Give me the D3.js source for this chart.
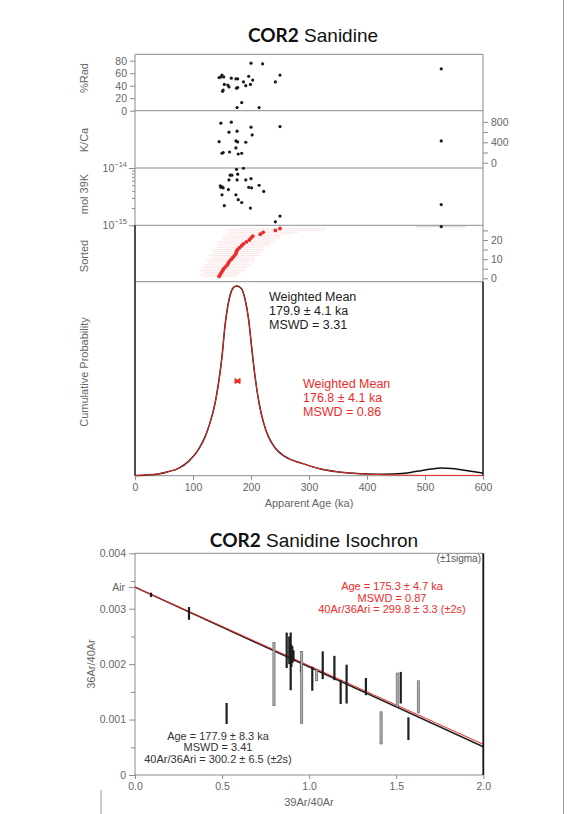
<!DOCTYPE html>
<html><head><meta charset="utf-8">
<script src="https://cdn.jsdelivr.net/npm/d3@7"></script>
<style>body{margin:0;background:#fff}svg{display:block}</style>
</head><body><svg id="c" width="579" height="814"></svg>
<script>
// ---------- data ----------
const titleTop = ["COR2", " Sanidine"];
const titleIso = ["COR2", " Sanidine Isochron"];

const radAge = [145,148,150,153,166,174,177,196,203,199,191,187,177,175,162,160,154,152,151,200,220,184,176,214,242,250,528];
const radVal = [53,54,57,54,52,51,51,55,49,42,40,46,37,36,38,41,42,33,31,76,75,13,5,5,46,57,67];

const kcaAge = [148,166,200,250,162,176,202,145,174,177,191,150,152,163,174,178,184,528];
const kcaVal = [776,795,697,709,598,618,545,413,427,408,401,185,200,210,290,171,185,427];

const molAge = [175,187,164,167,177,162,176,191,200,147,150,148,152,161,150,174,196,201,214,222,178,184,154,199,242,250,528];
const molVal = [9.5e-15,9.9e-15,7.5e-15,7.5e-15,7.8e-15,6.2e-15,6.2e-15,6.2e-15,6.5e-15,4.9e-15,4.7e-15,4.6e-15,4.5e-15,4.2e-15,3.4e-15,3.4e-15,4.6e-15,4.5e-15,5.0e-15,3.9e-15,2.8e-15,2.5e-15,2.2e-15,2.0e-15,1.15e-15,1.45e-15,2.3e-15];

const sortedAge = [145,147,149,151,153,156,159,161,163,166,169,172,174,175,177,180,184,187,192,197,200,203,216,221,242,250];
const sortedErr = [30,35,30,40,35,38,40,35,42,40,38,45,40,42,45,40,48,45,50,45,50,48,55,60,85,80];
const sortedOutAge = [528];
const sortedOutErr = [43];

const probAge   = [0,20,40,57,75,92,109,121,129,138,144,150,155,162,170,175,183,190,196,201,207,214,222,230,242,259,288,322,360,400,430,460,490,510,528,545,565,585,600];
const probBlack = [0,0.003,0.008,0.020,0.038,0.073,0.135,0.205,0.275,0.381,0.487,0.627,0.785,0.926,0.993,1.0,0.988,0.926,0.821,0.680,0.521,0.381,0.275,0.205,0.144,0.099,0.064,0.033,0.016,0.008,0.006,0.010,0.024,0.034,0.039,0.037,0.029,0.020,0.013];
const probRed   = [0,0.003,0.008,0.020,0.038,0.073,0.135,0.205,0.275,0.381,0.487,0.627,0.785,0.926,0.993,1.0,0.988,0.926,0.821,0.680,0.521,0.381,0.275,0.205,0.144,0.099,0.064,0.033,0.016,0.007,0.004,0.002,0.001,0.0008,0.0006,0.0005,0.0005,0.0005,0.0005];
const wmean = [176.8, 4.1];

const wmBlackText = ["Weighted Mean", "179.9 \u00b1 4.1 ka", "MSWD = 3.31"];
const wmRedText   = ["Weighted Mean", "176.8 \u00b1 4.1 ka", "MSWD = 0.86"];

const ageTicks = [0,100,200,300,400,500,600];
const radTicks = [0,20,40,60,80];
const kcaTicks = [0,200,400,600,800];
const sortTicks = [0,5,10,15,20,25];

// isochron
const isoX    = [0.092,0.310,0.526,0.798,0.871,0.886,0.894,0.898,0.903,0.910,0.953,0.957,1.018,1.043,1.078,1.145,1.181,1.215,1.326,1.413,1.506,1.526,1.570,1.627];
const isoLo   = [0.00321,0.00280,0.00092,0.00125,0.00193,0.00200,0.00153,0.00195,0.00202,0.00205,0.00185,0.00093,0.00152,0.00170,0.00173,0.00171,0.00128,0.00129,0.00144,0.00056,0.00123,0.00129,0.00063,0.00112];
const isoHi   = [0.00329,0.00303,0.00130,0.00239,0.00257,0.00250,0.00257,0.00235,0.00232,0.00225,0.00205,0.00223,0.00195,0.00190,0.00223,0.00215,0.00171,0.00199,0.00175,0.00114,0.00184,0.00186,0.00104,0.00170];
const isoDark = [1,1,1,0,1,1,1,1,1,1,1,0,1,0,1,1,1,1,1,0,0,1,1,0];
const isoLineBlack = [[0,0.00339],[2.0,0.000511]];
const isoLineRed   = [[0,0.00339],[2.0,0.000554]];
const isoYTicks = [0,0.0005,0.001,0.0015,0.002,0.0025,0.003,0.0035,0.004];
const isoXTicks = [0,0.5,1.0,1.5,2.0];
const airValue = 0.003384;
const isoRedText   = ["Age = 175.3 \u00b1 4.7 ka", "MSWD = 0.87", "40Ar/36Ari = 299.8 \u00b1 3.3 (\u00b12s)"];
const isoBlackText = ["Age = 177.9 \u00b1 8.3 ka", "MSWD = 3.41", "40Ar/36Ari = 300.2 \u00b1 6.5 (\u00b12s)"];

// ---------- drawing ----------
const FONT = "'Liberation Sans', Arial, sans-serif";
const GRAY = "#8c8c8c", TXT = "#666", RED = "#ee2b2b", DARK = "#1a1a1a";
const svg = d3.select("#c").attr("font-family", FONT);
const L = 135, R = 483;

const x = d3.scaleLinear().domain([0,600]).range([L,R]);
const yRad = d3.scaleLinear().domain([0,90]).range([110.7,54.45]);
const yKca = d3.scaleLinear().domain([-104,1020]).range([168,110.7]);
const yMol = d3.scaleLog().domain([1e-15,1e-14]).range([225.3,168]);
const ySort = d3.scaleLinear().domain([0,20]).range([278.3,240]);
const yProb = d3.scaleLinear().domain([0,1]).range([475.5,286]);

function line(x1,y1,x2,y2,c,w){ svg.append("line").attr("x1",x1).attr("y1",y1).attr("x2",x2).attr("y2",y2).attr("stroke",c).attr("stroke-width",w||1); }
function styleAxis(g, fs){
  g.attr("font-family", FONT).attr("font-size", fs);
  g.select(".domain").remove();
  g.selectAll(".tick line").attr("stroke", GRAY);
  g.selectAll(".tick text").attr("fill", TXT);
}
function vlabel(txt, cx, cy, fs){
  svg.append("text").attr("transform",`translate(${cx},${cy}) rotate(-90)`).attr("text-anchor","middle")
    .attr("dominant-baseline","middle").attr("font-size",fs).attr("fill",TXT).text(txt);
}
function title(parts, cx, by){
  const t = svg.append("text").attr("x",cx).attr("y",by).attr("text-anchor","middle").attr("font-size",19).attr("fill","#111");
  t.append("tspan").attr("font-weight","bold").attr("font-family","Lato, 'Liberation Sans', sans-serif").text(parts[0]);
  t.append("tspan").text(parts[1]);
}

title(titleTop, 313, 41.5);

// ---- top panels frame ----
[54.3,110.7,168,225.3].forEach(y=>line(L,y,R,y,GRAY,1));
line(L,281.7,R,281.7,GRAY,1);
line(L,54.3,L,225.3,GRAY,1);
line(R,54.3,R,281.7,GRAY,1);

// sorted error bars (faint)
svg.append("g").selectAll("line").data(sortedAge).join("line")
  .attr("x1",(d,i)=>x(d-sortedErr[i])).attr("x2",(d,i)=>x(Math.min(600,d+sortedErr[i])))
  .attr("y1",(d,i)=>ySort(i+1)).attr("y2",(d,i)=>ySort(i+1))
  .attr("stroke","#f0c4c4").attr("stroke-width",1.2).attr("opacity",0.35);
svg.append("g").selectAll("line").data(sortedOutAge).join("line")
  .attr("x1",(d,i)=>x(d-sortedOutErr[i])).attr("x2",(d,i)=>x(Math.min(600,d+sortedOutErr[i])))
  .attr("y1",ySort(27)).attr("y2",ySort(27))
  .attr("stroke","#e0e0e0").attr("stroke-width",1.2);

// dots
svg.append("g").selectAll("circle").data(radAge).join("circle")
  .attr("cx",d=>x(d)).attr("cy",(d,i)=>yRad(radVal[i])).attr("r",1.6).attr("fill",DARK);
svg.append("g").selectAll("circle").data(kcaAge).join("circle")
  .attr("cx",d=>x(d)).attr("cy",(d,i)=>yKca(kcaVal[i])).attr("r",1.6).attr("fill",DARK);
svg.append("g").selectAll("circle").data(molAge).join("circle")
  .attr("cx",d=>x(d)).attr("cy",(d,i)=>yMol(molVal[i])).attr("r",1.6).attr("fill",DARK);
svg.append("g").selectAll("circle").data(sortedAge).join("circle")
  .attr("cx",d=>x(d)).attr("cy",(d,i)=>ySort(i+1)).attr("r",1.9).attr("fill",RED);
svg.append("g").selectAll("circle").data(sortedOutAge).join("circle")
  .attr("cx",d=>x(d)).attr("cy",ySort(27)).attr("r",1.6).attr("fill",DARK);

// axes top
styleAxis(svg.append("g").attr("transform",`translate(${L},0)`)
  .call(d3.axisLeft(yRad).tickValues(radTicks).tickSize(5).tickPadding(3)), 10.5);
styleAxis(svg.append("g").attr("transform",`translate(${R},0)`)
  .call(d3.axisRight(yKca).tickValues(kcaTicks).tickSize(5).tickPadding(3).tickFormat(d=>d%400===0?d:"")), 10.5);
styleAxis(svg.append("g").attr("transform",`translate(${R},0)`)
  .call(d3.axisRight(ySort).tickValues(sortTicks).tickSize(5).tickPadding(3).tickFormat(d=>d%10===0?d:"")), 10.5);
const molTicks = yMol.ticks();
const gm = svg.append("g").attr("transform",`translate(${L},0)`)
  .call(d3.axisLeft(yMol).tickValues(molTicks).tickSize(4).tickFormat(""));
styleAxis(gm, 10.5);
gm.selectAll(".tick line").attr("x2",(d)=> (d===1e-14||d===1e-15)? -6 : -3);
[1e-14,1e-15].forEach(v=>{
  const t = svg.append("text").attr("x",L-8).attr("y",yMol(v)+4).attr("text-anchor","end").attr("font-size",10.5).attr("fill",TXT);
  t.append("tspan").text("10");
  t.append("tspan").attr("dy",-5).attr("font-size",7.5).text("\u2212"+Math.round(-Math.log10(v)));
});

vlabel("%Rad", 85, 78, 11);
vlabel("K/Ca", 85, 140, 11);
vlabel("mol 39K", 85, 194, 11);
vlabel("Sorted", 85, 256, 11);
vlabel("Cumulative Probability", 85, 372, 11);

// ---- probability panel ----
const pline = d3.line().x(d=>x(d[0])).y(d=>yProb(d[1])).curve(d3.curveMonotoneX);
line(L,475.7,R,475.7,GRAY,1);
svg.append("path").attr("d",pline(probAge.map((a,i)=>[a,probBlack[i]]))).attr("fill","none").attr("stroke","#111").attr("stroke-width",1.5);
svg.append("path").attr("d",pline(probAge.map((a,i)=>[a,probRed[i]]))).attr("fill","none").attr("stroke",RED).attr("stroke-width",1.0);
line(L,225.3,L,475.7,"#222",1.6);
line(R,281.7,R,475.7,"#222",1.6);

{
  const yc = 381, a = x(wmean[0]-wmean[1]), b = x(wmean[0]+wmean[1]);
  svg.append("path").attr("d",`M${a},${yc-2.5}L${b},${yc+2.5}M${a},${yc+2.5}L${b},${yc-2.5}M${a},${yc-2.5}V${yc+2.5}M${b},${yc-2.5}V${yc+2.5}M${a},${yc}H${b}`)
    .attr("stroke",RED).attr("stroke-width",1.4).attr("fill","none");
}
wmBlackText.forEach((t,i)=>svg.append("text").attr("x",269).attr("y",301+i*14).attr("font-size",12.5).attr("fill","#222").text(t));
wmRedText.forEach((t,i)=>svg.append("text").attr("x",303).attr("y",388+i*14).attr("font-size",12.5).attr("fill",RED).text(t));

styleAxis(svg.append("g").attr("transform","translate(0,475.7)")
  .call(d3.axisBottom(x).tickValues(ageTicks).tickSize(4).tickPadding(4)), 10.5);
svg.append("text").attr("x",309).attr("y",507).attr("text-anchor","middle").attr("font-size",11).attr("fill",TXT).text("Apparent Age (ka)");

// ---- isochron ----
title(titleIso, 314, 546.5);
const xi = d3.scaleLinear().domain([0,2]).range([L,483.3]);
const yi = d3.scaleLinear().domain([0,0.004]).range([775,553.3]);
line(L,553.3,483.3,553.3,GRAY,1);
line(L,553.3,L,775,GRAY,1);
line(L,775,483.3,775,GRAY,1);

const isMajor = d => Math.abs(d*1000-Math.round(d*1000))<1e-9;
const gyi = svg.append("g").attr("transform",`translate(${L},0)`)
  .call(d3.axisLeft(yi).tickValues(isoYTicks).tickSize(6).tickPadding(3)
  .tickFormat(d=> isMajor(d) ? (d===0?"0":d3.format(".3f")(d)) : ""));
styleAxis(gyi, 10.5);
gyi.selectAll(".tick line").attr("x2",d=> isMajor(d) ? -6 : -4);
line(L-6, yi(airValue), L, yi(airValue), GRAY, 1);
svg.append("text").attr("x",L-10).attr("y",yi(airValue)+3.5).attr("text-anchor","end").attr("font-size",10.5).attr("fill",TXT).text("Air");

styleAxis(svg.append("g").attr("transform","translate(0,775)")
  .call(d3.axisBottom(xi).tickValues(isoXTicks).tickSize(4).tickPadding(4).tickFormat(d3.format(".1f"))), 10.5);
svg.append("text").attr("x",309).attr("y",806).attr("text-anchor","middle").attr("font-size",11).attr("fill",TXT).text("39Ar/40Ar");
vlabel("36Ar/40Ar", 92, 664, 11);
svg.append("text").attr("x",481).attr("y",562).attr("text-anchor","end").attr("font-size",10).attr("fill","#555").text("(\u00b11sigma)");

const il = d3.line().x(d=>xi(d[0])).y(d=>yi(d[1]));
svg.append("path").attr("d",il(isoLineBlack)).attr("stroke","#222").attr("stroke-width",1.6).attr("fill","none");
svg.append("path").attr("d",il(isoLineRed)).attr("stroke",RED).attr("stroke-width",1.0).attr("fill","none");

svg.append("g").selectAll("rect").data(isoX).join("rect")
  .attr("x",d=>xi(d)-1.1).attr("width",2.2)
  .attr("y",(d,i)=>yi(isoHi[i])).attr("height",(d,i)=>yi(isoLo[i])-yi(isoHi[i]))
  .attr("fill",(d,i)=>isoDark[i]?"#1e1e1e":"#b0b0b0").attr("stroke",(d,i)=>isoDark[i]?"none":"#555").attr("stroke-width",0.6);

line(483.3,553.3,483.3,775,"#111",1.8);

isoRedText.forEach((t,i)=>svg.append("text").attr("x",392).attr("y",590+i*11.7).attr("text-anchor","middle").attr("font-size",11).attr("fill",RED).text(t));
isoBlackText.forEach((t,i)=>svg.append("text").attr("x",218).attr("y",739.5+i*11.6).attr("text-anchor","middle").attr("font-size",11).attr("fill","#333").text(t));

line(563.5,0,563.5,814,"#999",1);
line(101,790,101,814,"#999",1);
</script></body></html>
